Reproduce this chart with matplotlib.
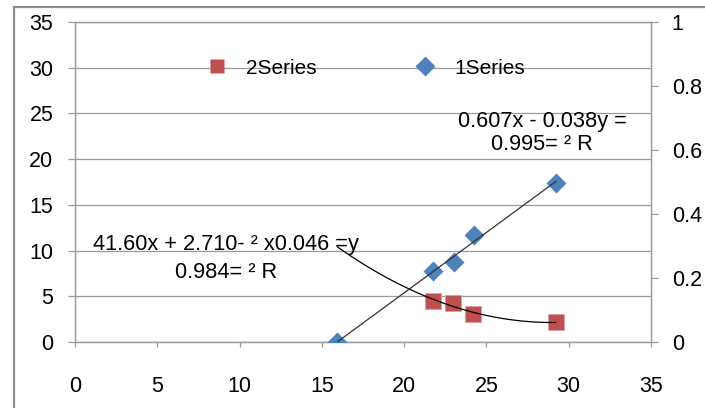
import numpy as np
import matplotlib
matplotlib.use("Agg")
import matplotlib.pyplot as plt
from matplotlib.lines import Line2D
from matplotlib.patches import Rectangle
from matplotlib.ticker import FuncFormatter

plt.rcParams.update({"font.family": ["Liberation Sans", "DejaVu Sans"], "font.size": 15.5})

# Series 1 (blue, right axis) and Series 2 (red, left axis)
x1 = [15.94, 21.77, 23.05, 24.23, 29.23]
y1 = [0.0, 0.222, 0.251, 0.334, 0.498]
x2 = [21.77, 22.99, 24.2, 29.2]
y2 = [4.52, 4.23, 3.03, 2.15]
eq1 = "0.607x - 0.038y =\n0.995= \u00b2 R"
eq2 = "41.60x + 2.710- \u00b2 x0.046 =y\n0.984= \u00b2 R"

BLUE, RED, GRID = "#4f81bd", "#c0504d", "#9a9a9a"

fig = plt.figure(figsize=(7.05, 4.08), dpi=100)
fig.patches.append(Rectangle((14 / 705, -0.1), 1.2, 1 - 7 / 408 + 0.1, transform=fig.transFigure,
                             fill=False, ec="#8c8c8c", lw=1.6))
ax = fig.add_axes([75 / 705, 1 - 342 / 408, 576 / 705, 320 / 408])
ax2 = ax.twinx()

ax.set_xlim(0, 35); ax.set_ylim(0, 35)
ax2.set_ylim(0, 1)
ax.set_xticks(np.arange(0, 36, 5)); ax.set_yticks(np.arange(0, 36, 5))
ax2.set_yticks(np.arange(0, 1.01, 0.2))
ax2.yaxis.set_major_formatter(FuncFormatter(lambda v, p: "%g" % round(v, 1)))
ax.grid(axis="y", color=GRID, lw=0.9)
ax.set_axisbelow(True)
for a in (ax, ax2):
    for s in a.spines.values():
        s.set_color(GRID); s.set_linewidth(0.9)
ax.tick_params(axis="x", length=3.6, width=0.9, color=GRID, pad=21)
ax.tick_params(axis="y", length=5, width=0.9, color=GRID, pad=10.5)
ax2.tick_params(axis="y", length=5, width=0.9, color=GRID, pad=10)

# series 2 + polynomial trendline
ax.plot(x2, y2, "s", color=RED, ms=12, mec="#d9a09e", mew=0.6, zorder=3)
c2 = np.polyfit(x2, y2, 2)
xs = np.linspace(x1[0], x2[-1], 100)
ax.plot(xs, np.polyval(c2, xs), color="black", lw=0.9, zorder=4)

# series 1 + linear trendline
ax2.plot(x1, y1, "D", color=BLUE, ms=10.5, mec="none", zorder=3)
c1 = np.polyfit(x1, y1, 1)
xl = np.array([x1[0], x1[-1]])
ax2.plot(xl, np.polyval(c1, xl), color="#333333", lw=0.9, zorder=4)

ax2.text(0.811, 0.653, eq1, transform=ax2.transAxes, ha="center", va="center",
         fontsize=15.7, linespacing=1.1)
ax2.text(0.262, 0.261, eq2, transform=ax2.transAxes, ha="center", va="center",
         fontsize=15.7, linespacing=1.42)

handles = [Line2D([], [], ls="none", marker="s", color=RED, ms=10, mec="none"),
           Line2D([], [], ls="none", marker="D", color=BLUE, ms=10, mec="none")]
ax2.legend(handles, ["2Series", "1Series"], loc="center left", bbox_to_anchor=(0.229, 0.856),
           ncol=2, frameon=False, borderpad=0, borderaxespad=0, handlelength=1.0,
           handletextpad=0.9, columnspacing=4.7, fontsize=15)

fig.savefig("out.png", dpi=100)
